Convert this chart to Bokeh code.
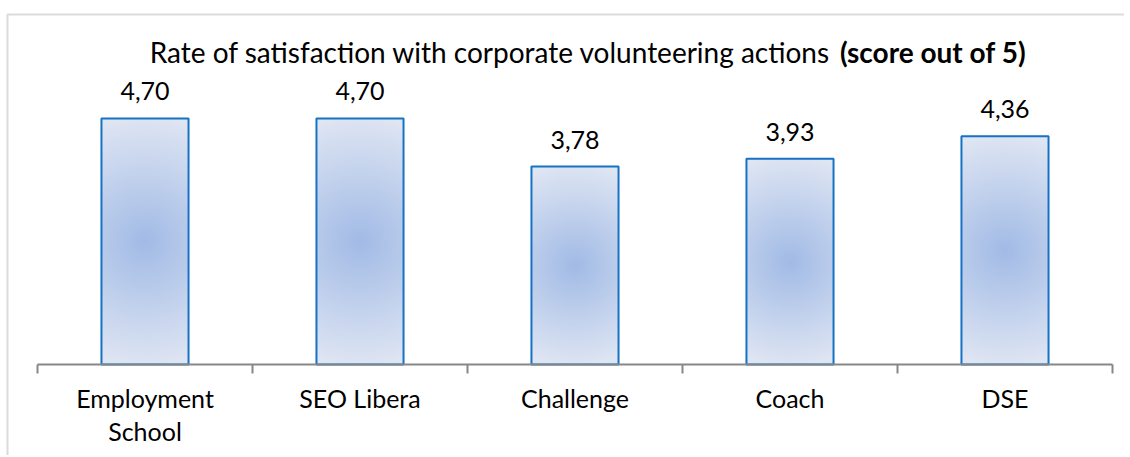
import numpy as np
from bokeh.plotting import figure
from bokeh.models import (Range1d, Label, LabelSet, ColumnDataSource, BoxAnnotation)
from bokeh.core.properties import value
from bokeh.embed import file_html
from bokeh.resources import INLINE

# ---- data ----
categories = ["Employment\nSchool", "SEO Libera", "Challenge", "Coach", "DSE"]
scores = [4.70, 4.70, 3.78, 3.93, 4.36]
title_regular = "Rate of satisfaction with corporate volunteering actions"
title_bold = "(score out of 5)"

FONT = "Lato"
FS = "25px"
TITLE_FS = "28px"
GRAY = "#878787"
BAR_LINE = "#1672c4"

n = len(categories)
W, H = 1124, 455
PX_X = 215.0             # pixels per category
PAD_L, PAD_R = 37, 12    # canvas space left/right of the category axis (pixels)
BASE_Y = 364             # canvas row of the category axis
PX_PER_UNIT = 52.35      # pixels per score unit
BAR_W = 0.405
LINE_GAP = 33            # pixels between the lines of a wrapped category label

xs = [i + 0.5 for i in range(n)]
labels = [f"{v:.2f}".replace(".", ",") for v in scores]

p = figure(width=W, height=H,
           x_range=Range1d(-PAD_L / PX_X, n + PAD_R / PX_X),
           y_range=Range1d(-(H - BASE_Y) / PX_PER_UNIT, BASE_Y / PX_PER_UNIT),
           x_axis_location=None, y_axis_location=None, toolbar_location=None,
           output_backend="svg", min_border=0)
p.outline_line_color = None
p.xgrid.visible = False
p.ygrid.visible = False
p.background_fill_color = "white"
p.border_fill_color = "white"

# gradient fill images (radial, from centre)
c_center = np.array([162, 187, 230], dtype=float)
c_edge = np.array([222, 229, 243], dtype=float)
imgs, ix, dws, dhs = [], [], [], []
for x, v in zip(xs, scores):
    w_px = int(round(BAR_W * PX_X))
    h_px = int(round(v * PX_PER_UNIT))
    yy, xx = np.mgrid[0:h_px, 0:w_px]
    dx = xx - (w_px - 1) / 2
    dy = yy - (h_px - 1) / 2
    r = np.sqrt(dx ** 2 + dy ** 2) / (h_px / 2)
    t = np.clip(r, 0, 1)
    col = c_center[None, None, :] + (c_edge - c_center)[None, None, :] * t[..., None]
    img = np.empty((h_px, w_px), dtype=np.uint32)
    view = img.view(dtype=np.uint8).reshape((h_px, w_px, 4))
    view[..., 0] = col[..., 0].astype(np.uint8)
    view[..., 1] = col[..., 1].astype(np.uint8)
    view[..., 2] = col[..., 2].astype(np.uint8)
    view[..., 3] = 255
    imgs.append(img)
    ix.append(x - BAR_W / 2)
    dws.append(BAR_W)
    dhs.append(v)

p.image_rgba(image=imgs, x=ix, y=[0] * n, dw=dws, dh=dhs)

src = ColumnDataSource(dict(x=xs, top=scores, label=labels))
p.vbar(x="x", top="top", width=BAR_W, source=src, fill_color=None,
       line_color=BAR_LINE, line_width=2)

p.add_layout(LabelSet(x="x", y="top", text="label", source=src, y_offset=18,
                      text_align="center", text_baseline="alphabetic",
                      text_font=value(FONT), text_font_size=FS, text_color="black"))

# category axis: baseline, boundary ticks and labels
bounds = list(range(n + 1))
p.segment(x0=[0], y0=[0], x1=[n], y1=[0], line_color=GRAY, line_width=2)
tick_len = 9 / PX_PER_UNIT
p.segment(x0=bounds, y0=[0] * len(bounds), x1=bounds, y1=[-tick_len] * len(bounds),
          line_color=GRAY, line_width=2)

lines = [c.split("\n") for c in categories]
line1 = [l[0] for l in lines]
line2 = [l[1] if len(l) > 1 else "" for l in lines]
for k, txt in enumerate([line1, line2]):
    cat_src = ColumnDataSource(dict(x=xs, y=[0] * n, label=txt))
    p.add_layout(LabelSet(x="x", y="y", text="label", source=cat_src,
                          y_offset=-43 - k * LINE_GAP,
                          text_align="center", text_baseline="alphabetic",
                          text_font=value(FONT), text_font_size=FS, text_color="black"))

# title (regular + bold part)
split_x = 3.69
title_y = 5.96
p.add_layout(Label(x=split_x, y=title_y, text=title_regular, text_align="right",
                   text_baseline="alphabetic", text_font=FONT, text_font_size=TITLE_FS,
                   text_color="black"))
p.add_layout(Label(x=split_x + 0.042, y=title_y, text=title_bold, text_align="left",
                   text_baseline="alphabetic", text_font=FONT, text_font_size=TITLE_FS,
                   text_font_style="bold", text_color="black"))

# outer chart border (top and left edges visible)
p.add_layout(BoxAnnotation(left=7, right=3000, top=14, bottom=3000,
                           left_units="canvas", right_units="canvas",
                           top_units="canvas", bottom_units="canvas",
                           fill_color=None, line_color=GRAY, line_width=2))

open("out.html", "w").write(file_html(p, INLINE))
